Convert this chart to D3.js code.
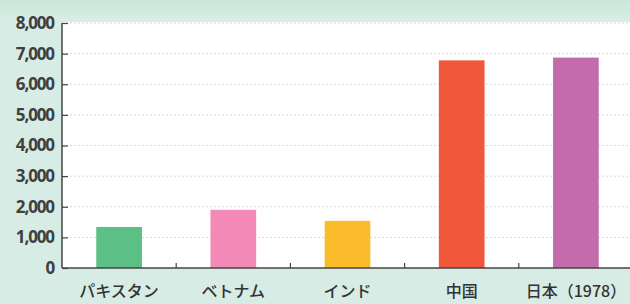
<!DOCTYPE html>
<html>
<head>
<meta charset="utf-8">
<script src="https://cdn.jsdelivr.net/npm/d3@7"></script>
<style>
  html, body { margin: 0; padding: 0; background: #d7ece4; }
  svg { display: block; }
  .tick-label { font-family: "Open Sans", "Noto Sans", sans-serif; font-size: 17px; font-weight: 700; fill: #404040; letter-spacing: -1.1px; }
  .cat-label { font-family: "Noto Sans CJK JP", sans-serif; font-size: 16px; font-weight: 500; fill: #333; }
</style>
</head>
<body>
<div id="chart"></div>
<script>
const categories = ["パキスタン", "ベトナム", "インド", "中国", "日本（1978）"];
const values = [1340, 1900, 1540, 6780, 6870];
const barColors = ["#5cbf86", "#f389b6", "#fbbc2c", "#f1573b", "#c46bab"];
const yTicks = [0, 1000, 2000, 3000, 4000, 5000, 6000, 7000, 8000];

const width = 630, height = 304;
const margin = {top: 23, right: -3, bottom: 36, left: 62};
const innerW = width - margin.left - margin.right;
const innerH = height - margin.top - margin.bottom;

const svg = d3.select("#chart").append("svg").attr("width", width).attr("height", height);

const defs = svg.append("defs");
const grad = defs.append("linearGradient").attr("id", "hdr").attr("x1", 0).attr("x2", 0).attr("y1", 0).attr("y2", 1);
grad.append("stop").attr("offset", "0%").attr("stop-color", "#c9e8d8");
grad.append("stop").attr("offset", "100%").attr("stop-color", "#d9ede6");

svg.append("rect").attr("width", width).attr("height", height).attr("fill", "#d7ece4");
svg.append("rect").attr("width", width).attr("height", 21).attr("fill", "url(#hdr)");

const g = svg.append("g").attr("transform", `translate(${margin.left},${margin.top})`);

g.append("rect").attr("x", 0).attr("y", -1).attr("width", innerW).attr("height", innerH + 1).attr("fill", "#ffffff");

const x = d3.scaleBand().domain(categories).range([0, innerW]).paddingInner(0.6).paddingOuter(0.3);
const y = d3.scaleLinear().domain([0, 8000]).range([innerH, 0]);

// dashed gridlines
g.selectAll(".grid").data(yTicks.filter(d => d > 0)).join("line")
  .attr("class", "grid")
  .attr("x1", 0).attr("x2", innerW)
  .attr("y1", d => y(d)).attr("y2", d => y(d))
  .attr("stroke", "#d8d8d8").attr("stroke-width", 1).attr("stroke-dasharray", "2,2");

// bars
g.selectAll(".bar").data(values).join("rect")
  .attr("class", "bar")
  .attr("x", (d, i) => x(categories[i]))
  .attr("y", d => y(d))
  .attr("width", x.bandwidth())
  .attr("height", d => innerH - y(d))
  .attr("fill", (d, i) => barColors[i]);

// y axis
const yAxis = d3.axisRight(y).tickValues(yTicks).tickSize(6).tickFormat("");
const gy = g.append("g").call(yAxis);
gy.select(".domain").attr("stroke", "#444").attr("stroke-width", 1.5).attr("d", `M0,0V${innerH}`);
gy.selectAll(".tick line").attr("stroke", "#444").attr("stroke-width", 1.2);

g.selectAll(".tick-label").data(yTicks).join("text")
  .attr("class", "tick-label")
  .attr("x", -8)
  .attr("y", d => y(d))
  .attr("dy", "0.35em")
  .attr("text-anchor", "end")
  .text(d => d3.format(",")(d));

// x axis baseline and separators
const step = x.step();
const seps = categories.slice(1).map(c => x(c) - (step - x.bandwidth()) / 2);
g.append("line").attr("x1", 0).attr("x2", innerW).attr("y1", innerH).attr("y2", innerH)
  .attr("stroke", "#444").attr("stroke-width", 1.5);
g.selectAll(".sep").data(seps).join("line")
  .attr("class", "sep")
  .attr("x1", d => d).attr("x2", d => d)
  .attr("y1", innerH).attr("y2", innerH - 5)
  .attr("stroke", "#444").attr("stroke-width", 1.2);

g.selectAll(".cat-label").data(categories).join("text")
  .attr("class", "cat-label")
  .attr("x", d => x(d) + x.bandwidth() / 2)
  .attr("y", innerH + 29)
  .attr("text-anchor", "middle")
  .text(d => d);
</script>
</body>
</html>
